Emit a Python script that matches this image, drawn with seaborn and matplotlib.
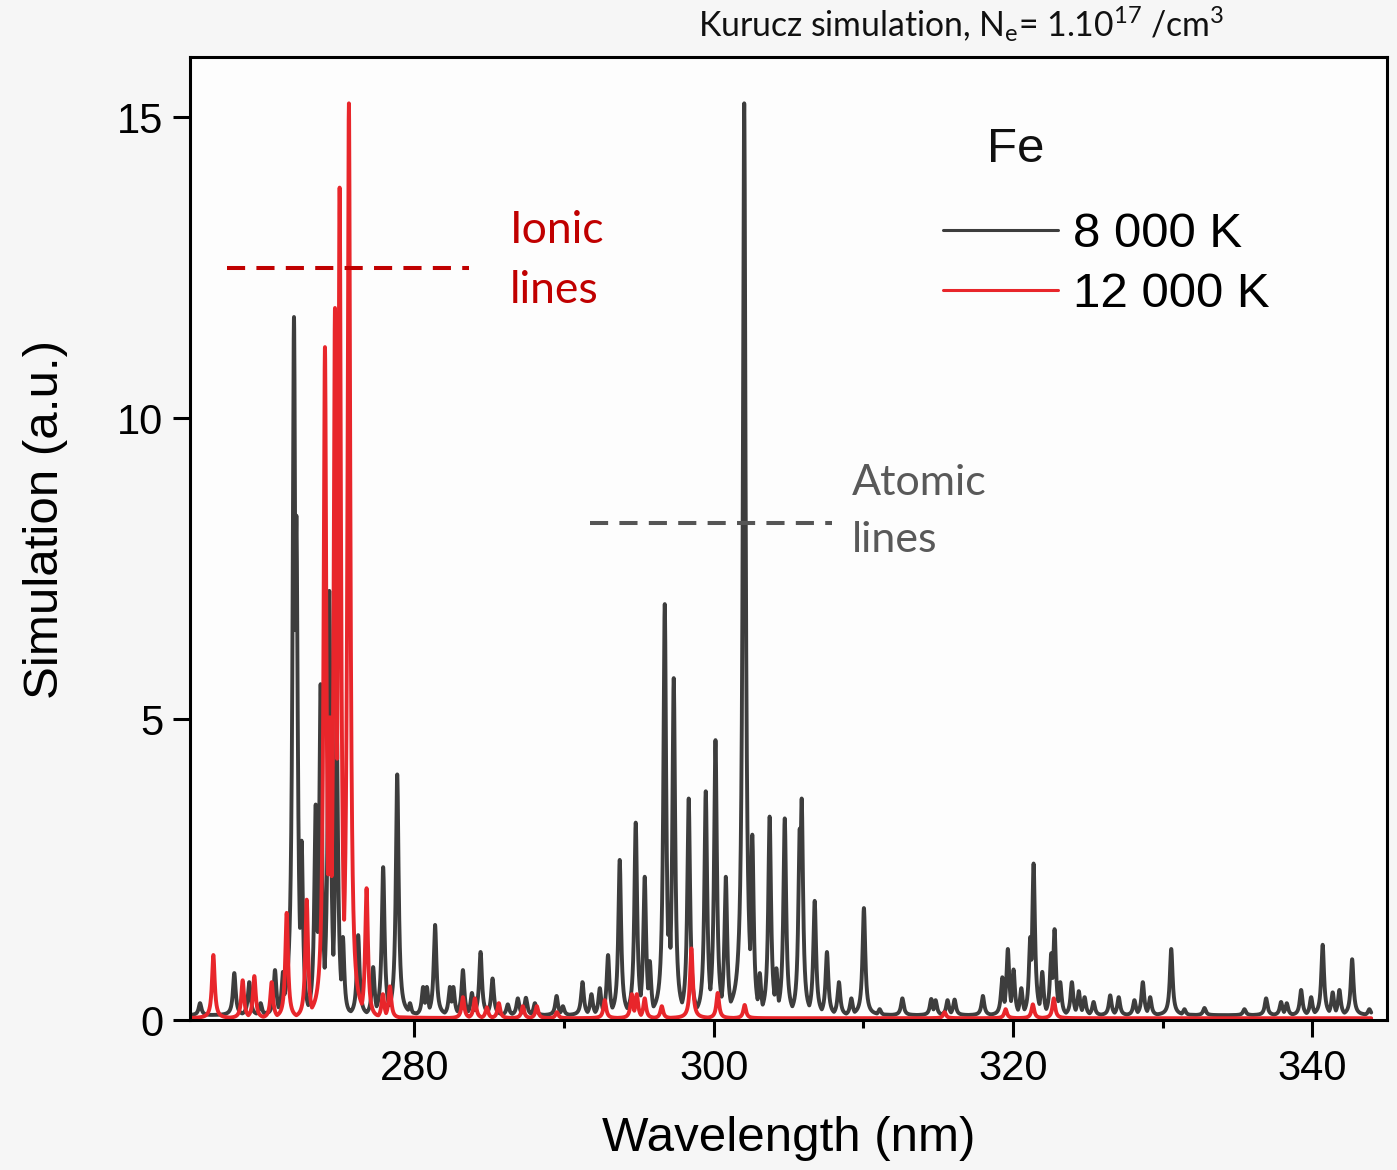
import numpy as np
import pandas as pd
import matplotlib
matplotlib.use("Agg")
import matplotlib.pyplot as plt
import seaborn as sns
from matplotlib.ticker import FixedLocator

# ---------------- data ----------------
# 8 000 K spectrum: line centres (nm) and peak heights (a.u.)
fe8000_center = [265.67, 267.96, 268.96, 269.72, 270.68, 271.21, 271.95, 272.11, 272.46,
                 273.40, 273.73, 274.31, 274.80, 275.22, 276.24, 277.24, 277.91, 278.85,
                 279.70, 280.58, 280.83, 281.38, 282.37, 282.60, 283.24, 283.84, 284.42,
                 285.22, 286.24, 286.91, 287.45, 288.05, 289.50, 289.92, 291.23, 291.83,
                 292.39, 292.94, 293.72, 294.79, 295.39, 295.73, 296.73, 297.02, 297.33,
                 298.33, 299.47, 300.12, 300.81, 302.04, 302.58, 303.08, 303.74, 304.19,
                 304.75, 305.75, 305.88, 306.75, 307.57, 308.37, 309.20, 310.04, 311.09,
                 312.61, 314.54, 314.83, 315.63, 316.10, 317.99, 319.29, 319.66, 320.04,
                 320.56, 321.16, 321.38, 321.96, 322.56, 322.78, 323.16, 323.94, 324.40,
                 324.79, 325.39, 326.50, 327.07, 328.12, 328.68, 329.17, 330.58, 331.46,
                 332.80, 335.47, 336.92, 337.92, 338.30, 339.26, 339.93, 340.70, 341.37,
                 341.82, 342.67, 343.82]
fe8000_height = [0.20, 0.70, 0.55, 0.20, 0.75, 0.72, 11.60, 8.30, 2.90,
                 3.50, 5.50, 7.05, 4.90, 1.30, 1.33, 0.80, 2.46, 4.00,
                 0.20, 0.47, 0.47, 1.50, 0.47, 0.47, 0.75, 0.37, 1.05,
                 0.61, 0.18, 0.28, 0.29, 0.20, 0.32, 0.15, 0.55, 0.35,
                 0.45, 1.00, 2.58, 3.20, 2.30, 0.90, 6.83, 1.80, 5.60,
                 3.60, 3.72, 4.57, 2.30, 15.15, 3.00, 0.70, 3.30, 0.78,
                 3.27, 3.10, 3.60, 1.90, 1.05, 0.55, 0.28, 1.78, 0.10,
                 0.28, 0.27, 0.25, 0.25, 0.26, 0.32, 0.63, 1.10, 0.76,
                 0.45, 1.30, 2.52, 0.72, 1.03, 1.43, 0.55, 0.55, 0.40,
                 0.30, 0.22, 0.33, 0.30, 0.25, 0.55, 0.30, 1.10, 0.10,
                 0.12, 0.10, 0.28, 0.22, 0.20, 0.42, 0.30, 1.17, 0.38,
                 0.42, 0.93, 0.10]

# 12 000 K spectrum
fe12000_center = [266.56, 268.52, 269.30, 270.46, 271.46, 272.80, 274.02, 274.35, 274.69,
                  275.00, 275.62, 276.80, 277.89, 278.36, 283.24, 284.04, 284.84, 285.64,
                  287.24, 288.18, 289.52, 292.72, 294.53, 294.86, 295.39, 296.53, 298.51,
                  300.27, 302.07, 315.43, 319.51, 321.33, 322.73]
fe12000_height = [1.05, 0.63, 0.70, 0.60, 1.75, 1.97, 11.15, 5.00, 11.80,
                  13.80, 15.20, 2.16, 0.40, 0.53, 0.35, 0.33, 0.18, 0.25,
                  0.20, 0.20, 0.10, 0.30, 0.40, 0.40, 0.33, 0.20, 1.16,
                  0.42, 0.22, 0.10, 0.15, 0.23, 0.33]

series_labels = ["8 000 K", "12 000 K"]
baseline = {"8 000 K": 0.08, "12 000 K": 0.03}

x_ticks = [280, 300, 320, 340]
x_minor_ticks = [290, 310, 330]
y_ticks = [0, 5, 10, 15]

ionic_span, ionic_level = (267.47, 283.64), 12.5
atomic_span, atomic_level = (291.72, 307.89), 8.25

# ---------------- build line profiles ----------------
wl = np.arange(265.1, 343.95, 0.005)
gamma = 0.11


def profile(centers, heights, base):
    c = np.asarray(centers)[:, None]
    h = np.asarray(heights)[:, None]
    prof = h / (1.0 + ((wl[None, :] - c) / gamma) ** 2)
    return base + prof.max(axis=0)


df = pd.concat([
    pd.DataFrame({"Wavelength": wl,
                  "Intensity": profile(fe8000_center, fe8000_height, baseline["8 000 K"]),
                  "T": series_labels[0]}),
    pd.DataFrame({"Wavelength": wl,
                  "Intensity": profile(fe12000_center, fe12000_height, baseline["12 000 K"]),
                  "T": series_labels[1]}),
])

# ---------------- plot ----------------
sns.set_theme(style="white")
plt.rcParams["font.family"] = ["Liberation Sans", "DejaVu Sans"]
plt.rcParams["text.color"] = "black"

W, H = 1397, 1170
fig = plt.figure(figsize=(W / 100, H / 100), dpi=100, facecolor="#f6f6f6")
ax = fig.add_axes([190 / W, 1 - 1020 / H, 1197 / W, 963 / H])
ax.set_facecolor("#fdfdfd")

palette = {"8 000 K": "#3d3d3d", "12 000 K": "#e8262b"}
sns.lineplot(data=df, x="Wavelength", y="Intensity", hue="T", hue_order=series_labels,
             palette=palette, estimator=None, sort=False, linewidth=2.8, ax=ax,
             legend=True)

ax.set_xlim(265, 345)
ax.set_ylim(0, 16)
ax.set_xticks(x_ticks)
ax.set_yticks(y_ticks)
ax.xaxis.set_minor_locator(FixedLocator(x_minor_ticks))

for s in ax.spines.values():
    s.set_visible(True)
    s.set_color("black")
    s.set_linewidth(2.2)

ax.tick_params(axis="both", which="major", direction="out", length=12, width=2.2,
               labelsize=30, color="black", labelcolor="black", bottom=True, left=True,
               top=False, right=False)
ax.tick_params(axis="x", which="major", pad=9)
ax.tick_params(axis="y", which="major", pad=7)
ax.tick_params(axis="x", which="minor", direction="out", length=6, width=2.2,
               bottom=True, color="black")

ax.set_xlabel("Wavelength (nm)", fontsize=35.5, color="black")
ax.set_ylabel("Simulation (a.u.)", fontsize=35.5, color="black")
ax.xaxis.set_label_coords(0.5, -0.10)
ax.yaxis.set_label_coords(-0.102, 0.52)

# legend
handles, labels = ax.get_legend_handles_labels()
ax.get_legend().remove()
leg = ax.legend(handles, labels, loc="upper left",
                bbox_to_anchor=(943 / W, 1 - 212 / H), bbox_transform=fig.transFigure,
                frameon=False, fontsize=35.5, handlelength=2.33, handletextpad=0.3,
                labelspacing=0.3, borderpad=0, borderaxespad=0, labelcolor="black")
for lh in leg.get_lines():
    lh.set_linewidth(2.2)
fig.text(987 / W, 1 - 150 / H, "Fe", fontsize=35.5, ha="left", va="center", color="#111111")

# annotations
ax.plot(list(ionic_span), [ionic_level, ionic_level], color="#c00000", lw=2.9,
        dashes=(4.5, 2.8))
ax.text(286.4, 12.62, "Ionic\nlines", color="#c00000", fontsize=32,
        family=["Lato", "DejaVu Sans"], ha="left", va="center", linespacing=1.6)
ax.plot(list(atomic_span), [atomic_level, atomic_level], color="#555555", lw=2.9,
        dashes=(4.5, 2.8))
ax.text(309.22, 8.45, "Atomic\nlines", color="#595959", fontsize=31,
        family=["Lato", "DejaVu Sans"], ha="left", va="center", linespacing=1.6)

fig.text(961 / W, 1 - 24 / H,
         r"Kurucz simulation, N$\mathregular{_e}$= 1.10$\mathregular{^{17}}$ /cm$\mathregular{^3}$",
         fontsize=24.3, family=["Lato", "DejaVu Sans"], ha="center", va="center",
         color="#111111")

fig.savefig("out.png", dpi=100, facecolor=fig.get_facecolor())
